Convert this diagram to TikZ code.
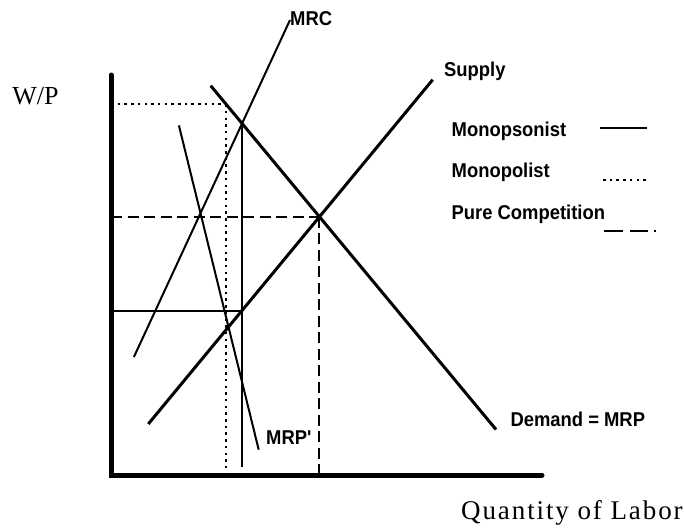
\documentclass[tikz,border=0pt]{standalone}
\usepackage{fontspec}
\setmainfont{Liberation Serif}
\newfontfamily\labfont{Liberation Sans}[FakeStretch=0.92]
\newfontfamily\serlab{Liberation Serif}[LetterSpace=7]
\begin{document}
\begin{tikzpicture}[x=1pt,y=-1pt,
  lab/.style={font=\labfont\bfseries\fontsize{20}{24}\selectfont, inner sep=0pt, anchor=base west},
  axlab/.style={font=\fontsize{26}{30}\selectfont, inner sep=0pt, anchor=base west},
  axisline/.style={line width=5pt, line cap=round, line join=miter},
  curve/.style={line width=3pt},
  thinline/.style={line width=2pt},
  mono/.style={line width=2pt, dash pattern=on 2.5pt off 4.2pt},
  comp/.style={line width=2pt, dash pattern=on 11pt off 5.5pt}]
\useasboundingbox (0,0) rectangle (684,527);
% key points
\coordinate (O) at (111,475);
\coordinate (Ytop) at (111,75);
\coordinate (Xend) at (542,475);
\coordinate (D1) at (210.7,85.7);  \coordinate (D2) at (496,429.5);
\coordinate (S1) at (148.3,424);   \coordinate (S2) at (432.7,79.7);
\coordinate (M1) at (133.9,357);   \coordinate (M2) at (290,20);
\coordinate (P1) at (178.9,125.4); \coordinate (P2) at (258.7,449.7);
\coordinate (E) at (intersection of D1--D2 and S1--S2);
\coordinate (A) at (intersection of D1--D2 and M1--M2);
\coordinate (Abot) at (A |- 0,466.5);
\coordinate (B) at (intersection of S1--S2 and A--Abot);
\coordinate (Q1) at (intersection of D1--D2 and 226,0--226,500);
% axes
\draw[axisline] (Ytop) -- (O) -- (Xend);
% curves
\draw[curve] (D1) -- (D2);
\draw[curve] (S1) -- (S2);
\draw[thinline] (M1) -- (M2);
\draw[thinline] (P1) -- (P2);
% monopsonist
\draw[thinline] (A) -- (Abot);
\draw[thinline] (O |- B) -- (B);
% monopolist
\draw[mono] (O |- Q1) -- (Q1);
\draw[mono] (Q1) -- (Q1 |- O);
% pure competition
\draw[comp] (O |- E) -- (E);
\draw[comp] (E) -- (E |- O);
% legend
\coordinate (L1a) at (600,127.7); \coordinate (L1b) at (646.5,127.7);
\coordinate (L2a) at (603,179.8); \coordinate (L2b) at (647,179.8);
\coordinate (L3a) at (604,231.2); \coordinate (L3b) at (656.5,231.2);
\draw[thinline] (L1a) -- (L1b);
\draw[mono] (L2a) -- (L2b);
\draw[line width=2pt, dash pattern=on 19pt off 7pt on 17.5pt off 6pt on 2pt] (L3a) -- (L3b);
% labels
\node[lab] (mrc) at (290,26) {MRC};
\node[lab] (sup) at (444,76) {Supply};
\node[lab] (lg1) at (451.5,136.5) {Monopsonist};
\node[lab] (lg2) at (451.5,177.5) {Monopolist};
\node[lab] (lg3) at (451.5,219.5) {Pure Competition};
\node[lab] (dem) at (510.4,426.5) {Demand = MRP};
\node[lab] (mrp) at (266,444.3) {MRP'};
\node[axlab] (wp) at (12.2,104.9) {W/P};
\node[axlab, font=\serlab\fontsize{27}{30}\selectfont] (ql) at (461,519) {Quantity of Labor};
\end{tikzpicture}
\end{document}
